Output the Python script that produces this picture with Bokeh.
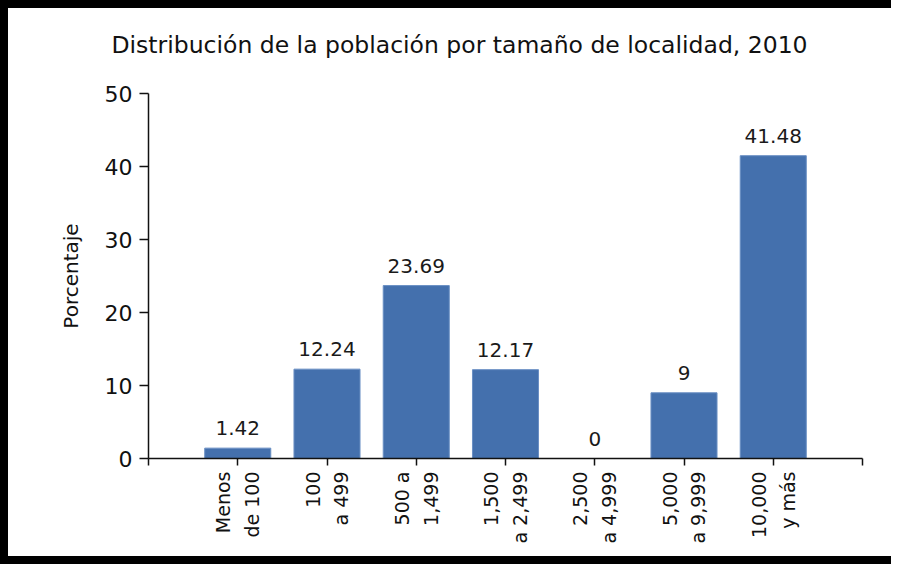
import math
from bokeh.plotting import figure
from bokeh.layouts import column
from bokeh.models import ColumnDataSource, FixedTicker, Range1d, Title
from bokeh.core.properties import value
from bokeh.embed import file_html
from bokeh.resources import INLINE

# ---- data ----
categories = ["Menos\nde 100", "100\na 499", "500 a\n1,499", "1,500\na 2,499",
              "2,500\na 4,999", "5,000\na 9,999", "10,000\ny más"]
percentages = [1.42, 12.24, 23.69, 12.17, 0, 9, 41.48]
y_ticks = [0, 10, 20, 30, 40, 50]
title_text = "Distribución de la población por tamaño de localidad, 2010"
y_label = "Porcentaje"

positions = list(range(1, len(categories) + 1))
value_labels = [f"{v:g}" for v in percentages]

src = ColumnDataSource(dict(x=positions, top=percentages, lab=value_labels))

FONT = "DejaVu Sans"
BAR = "#4470AD"

p = figure(width=883, height=548, output_backend="svg", toolbar_location=None,
           x_range=Range1d(0, len(categories) + 1), y_range=Range1d(0, 50),
           min_border_left=140, min_border_right=29, min_border_top=85,
           min_border_bottom=98, background_fill_color="white",
           border_fill_color="white")
p.outline_line_color = None
p.grid.visible = False

# spacer between title and plot area
p.add_layout(Title(text=" ", text_font_size="1px", standoff=12), "above")

p.title.text = title_text
p.title.text_font = FONT
p.title.text_font_size = "23.5px"
p.title.text_font_style = "normal"
p.title.text_color = "#111111"
p.title.align = "left"
p.title.offset = -37
p.title.standoff = 40

p.vbar(x="x", top="top", width=0.74, source=src, fill_color=BAR,
       line_color="#6a8fc4", line_width=1)
p.text(x="x", y="top", text="lab", source=src, text_font=value(FONT),
       text_font_size="20px", text_color="#1a1a1a", text_align="center",
       text_baseline="bottom", y_offset=-13)

# x axis
xa = p.xaxis[0]
xa.ticker = FixedTicker(ticks=list(range(0, len(categories) + 2)))
overrides = {0: "", len(categories) + 1: ""}
for pos, c in zip(positions, categories):
    overrides[pos] = c
xa.major_label_overrides = overrides
xa.major_label_orientation = math.pi / 2
xa.major_label_text_font = FONT
xa.major_label_text_font_size = "19px"
xa.major_label_text_color = "#111111"
xa.major_label_text_line_height = 1.3
xa.major_label_standoff = 6
xa.major_tick_in = 0
xa.major_tick_out = 7
xa.minor_tick_line_color = None
xa.axis_line_width = 1.5
xa.major_tick_line_width = 1.5
xa.axis_line_color = "#111111"
xa.major_tick_line_color = "#111111"

# y axis
ya = p.yaxis[0]
ya.ticker = FixedTicker(ticks=y_ticks)
ya.axis_label = y_label
ya.axis_label_text_font = FONT
ya.axis_label_text_font_size = "20px"
ya.axis_label_text_font_style = "normal"
ya.axis_label_text_color = "#111111"
ya.axis_label_standoff = 19
ya.major_label_text_font = FONT
ya.major_label_text_font_size = "22px"
ya.major_label_text_color = "#111111"
ya.major_label_standoff = 7
ya.major_tick_in = 0
ya.major_tick_out = 9
ya.minor_tick_line_color = None
ya.axis_line_width = 1.5
ya.major_tick_line_width = 1.5
ya.axis_line_color = "#111111"
ya.major_tick_line_color = "#111111"

inner = column(p, styles={"background-color": "white"}, margin=(8, 0, 8, 8))
page = column(inner, styles={"background-color": "black"})

open("out.html", "w").write(file_html(page, INLINE))
